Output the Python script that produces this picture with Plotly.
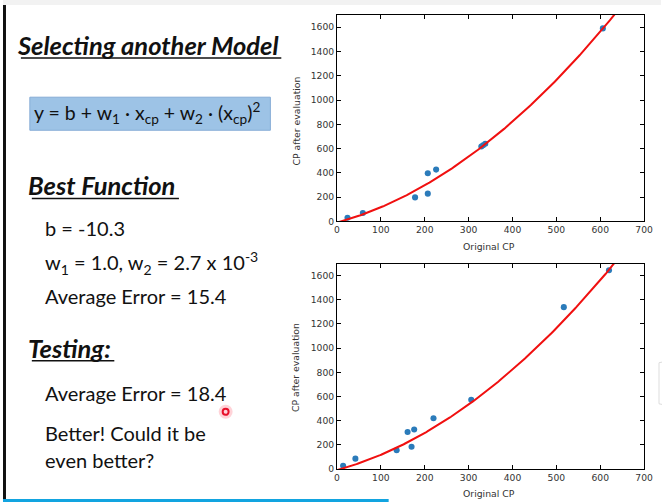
import numpy as np
import plotly.graph_objects as go

# reference slide is 662x502; the page is captured a little larger and scaled down,
# so the figure is drawn at 670x508 and everything is placed in reference pixels
W, H = 662, 502
FIG_W, FIG_H = 670, 508
k = FIG_W / W

# best function found on the slide
b = -10.3
w1 = 1.0
w2 = 2.7e-3

# training data: original CP -> CP after evolution
train_cp = [24, 59, 178, 207, 207, 226, 329, 333, 338, 606]
train_evo = [30, 69, 198, 229, 397, 427, 617, 628, 640, 1590]

# testing data
test_cp = [14, 42, 136, 161, 170, 176, 220, 306, 517, 620]
test_evo = [27, 85, 154, 305, 184, 327, 420, 573, 1339, 1644]

x_ticks = [0, 100, 200, 300, 400, 500, 600, 700]
y_ticks = [0, 200, 400, 600, 800, 1000, 1200, 1400, 1600]

curve_x = np.linspace(0, 700, 300)
curve_y = b + w1 * curve_x + w2 * curve_x ** 2


def px(x):
    return x / W


def py(y):
    return 1 - y / H


fig = go.Figure()

for cp, evo, xa, ya in [(train_cp, train_evo, "x", "y"), (test_cp, test_evo, "x2", "y2")]:
    fig.add_trace(go.Scatter(x=cp, y=evo, mode="markers", xaxis=xa, yaxis=ya,
                             marker=dict(color="#2b7bba", size=6 * k), showlegend=False))
    fig.add_trace(go.Scatter(x=curve_x, y=curve_y, mode="lines", xaxis=xa, yaxis=ya,
                             line=dict(color="#f01010", width=2 * k), showlegend=False))

tick_font = dict(family="DejaVu Sans", size=9.1 * k, color="#333")
xcommon = dict(range=[0, 700], tickvals=x_ticks, ticks="inside", ticklen=4 * k, tickcolor="black",
               showline=True, linecolor="black", linewidth=1, mirror="ticks", showgrid=False,
               zeroline=False, tickfont=tick_font, domain=[px(336), px(645)])
ycommon = dict(range=[0, 1700], tickvals=y_ticks, ticks="inside", ticklen=4 * k, tickcolor="black",
               showline=True, linecolor="black", linewidth=1, mirror="ticks", showgrid=False,
               zeroline=False, tickfont=tick_font)

fig.update_layout(
    width=FIG_W, height=FIG_H,
    margin=dict(l=0, r=0, t=0, b=0),
    paper_bgcolor="white", plot_bgcolor="white",
    xaxis=dict(xcommon, anchor="y"),
    yaxis=dict(ycommon, anchor="x", domain=[py(221), py(15)]),
    xaxis2=dict(xcommon, anchor="y2"),
    yaxis2=dict(ycommon, anchor="x2", domain=[py(468), py(263)]),
)

ann = []
label_font = dict(family="DejaVu Sans", size=9.2 * k, color="#333")
for yc, xl in [(121, 246), (367, 493)]:
    ann.append(dict(x=px(295), y=py(yc), text="CP after evaluation", textangle=-90, showarrow=False,
                    xref="paper", yref="paper", xanchor="center", yanchor="middle", font=label_font))
    ann.append(dict(x=px(489), y=py(xl), text="Original CP", showarrow=False,
                    xref="paper", yref="paper", xanchor="center", yanchor="middle", font=label_font))

slide = "Lato"
body = dict(family=slide, size=20, color="#111")
formula = dict(family=slide, size=19.5, color="#111")
head = dict(family=slide, size=25.5, color="#111")
texts = [
    (12, 45, "<b><i>Selecting another Model</i></b>", head),
    (29, 113, "y = b + w<sub>1</sub> · x<sub>cp</sub> + w<sub>2</sub> · (x<sub>cp</sub>)<sup>2</sup>", formula),
    (23, 185, "<b><i>Best Function</i></b>", head),
    (40, 228, "b = -10.3", body),
    (40, 262, "w<sub>1</sub> = 1.0, w<sub>2</sub> = 2.7 x 10<sup>-3</sup>", body),
    (40, 295, "Average Error = 15.4", body),
    (23, 347, "<b><i>Testing:</i></b>", head),
    (40, 392, "Average Error = 18.4", body),
    (40, 432, "Better! Could it be", body),
    (40, 459, "even better?", body),
]
for x, y, t, f in texts:
    ann.append(dict(x=px(x), y=py(y), text=t, showarrow=False, xref="paper", yref="paper",
                    xanchor="left", yanchor="middle", font=f))
fig.update_layout(annotations=ann)

shapes = [
    # grey strip at the top, dark edge at the left, blue bar at the bottom
    dict(type="rect", xref="paper", yref="paper", x0=0, x1=1, y0=py(5), y1=1,
         fillcolor="#f2f2f2", line_width=0, layer="below"),
    dict(type="rect", xref="paper", yref="paper", x0=0, x1=px(3), y0=0, y1=py(5),
         fillcolor="#111", line_width=0),
    dict(type="rect", xref="paper", yref="paper", x0=0, x1=px(388), y0=0, y1=py(498),
         fillcolor="#12a4e0", line_width=0),
    # formula box
    dict(type="rect", xref="paper", yref="paper", x0=px(27), x1=px(269), y0=py(130), y1=py(97),
         fillcolor="#9dc3e6", line=dict(color="#86acd6", width=1), layer="below"),
    # underlines
    dict(type="line", xref="paper", yref="paper", x0=px(18), x1=px(280), y0=py(58), y1=py(58),
         line=dict(color="#111", width=1.5)),
    dict(type="line", xref="paper", yref="paper", x0=px(29), x1=px(177), y0=py(198), y1=py(198),
         line=dict(color="#111", width=1.5)),
    dict(type="line", xref="paper", yref="paper", x0=px(29), x1=px(112), y0=py(360), y1=py(360),
         line=dict(color="#111", width=1.5)),
    # laser pointer dot
    dict(type="circle", xref="paper", yref="paper", x0=px(217), x1=px(231), y0=py(418), y1=py(404),
         fillcolor="rgba(255,80,100,0.25)", line_width=0),
    dict(type="circle", xref="paper", yref="paper", x0=px(221), x1=px(227), y0=py(414), y1=py(408),
         fillcolor="#ffd0d8", line=dict(color="#e8102a", width=2)),
    # edge of a panel on the right
    dict(type="path", xref="paper", yref="paper",
         path="M %f,%f L %f,%f L %f,%f L %f,%f" % (px(670), py(360), px(660), py(362),
                                                  px(660), py(403), px(670), py(405)),
         line=dict(color="#dddddd", width=1)),
]
fig.update_layout(shapes=shapes)

page_js = """
document.documentElement.style.margin='0';
document.body.style.margin='0';
"""
fig.write_html("out.html", config={"displayModeBar": False}, post_script=page_js)
